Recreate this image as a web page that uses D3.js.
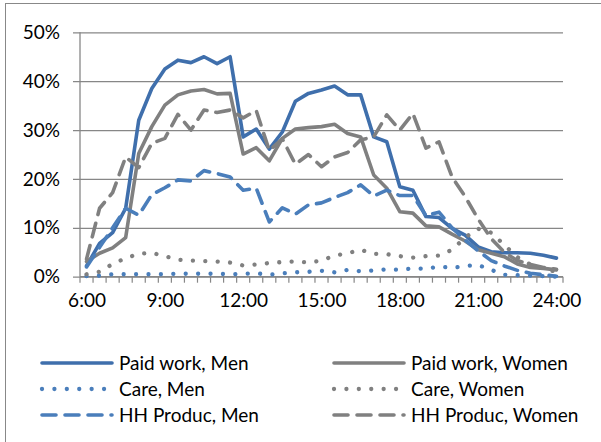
<!DOCTYPE html>
<html>
<head>
<meta charset="utf-8">
<script src="https://cdn.jsdelivr.net/npm/d3@7/dist/d3.min.js"></script>
<style>
  body { margin: 0; background: #fff; }
  text { font-family: Lato, "Noto Sans", sans-serif; fill: #000; }
</style>
</head>
<body>
<div id="app"></div>
<script>
// half-hour slots 6:00 .. 24:00
const times = d3.range(12, 49).map(h => `${Math.floor(h / 2)}:${h % 2 ? "30" : "00"}`)
const tickLabels = ["6:00", "9:00", "12:00", "15:00", "18:00", "21:00", "24:00"]
const yTicks = [0, 10, 20, 30, 40, 50]

const paidMen = [2.2, 6.8, 9, 14, 32, 38.5, 42.5, 44.3, 43.8, 45, 43.6, 45, 28.6, 30.2, 26.1, 29.6, 35.9, 37.5, 38.2, 39, 37.2, 37.2, 28.6, 27.6, 18.4, 17.7, 12.3, 12.1, 9.9, 8.5, 6.1, 5.1, 4.9, 4.9, 4.8, 4.4, 3.8]
const paidWomen = [3.1, 4.8, 5.9, 8, 25.2, 30.7, 35.1, 37.2, 38, 38.3, 37.4, 37.5, 25.1, 26.4, 23.7, 28.3, 30.2, 30.5, 30.7, 31.2, 29.3, 28.6, 20.8, 18.1, 13.3, 13, 10.4, 10.2, 8.7, 7.3, 5.5, 4.8, 4.1, 2.6, 1.9, 1.7, 1.4]
const careMen = [0.1, 0.2, 0.5, 0.5, 0.5, 0.5, 0.5, 0.6, 0.6, 0.6, 0.6, 0.5, 0.6, 0.7, 0.4, 0.7, 0.9, 1.0, 1.2, 0.9, 1.4, 1.1, 1.3, 1.5, 1.4, 1.7, 1.6, 2.1, 1.8, 2.2, 2.4, 1.4, 0.4, 0.3, 0.2, 0.1, 0]
const careWomen = [0.5, 1.0, 2.6, 3.8, 4.7, 4.9, 4.2, 3.5, 3.3, 3.2, 3.1, 2.9, 2.3, 2.5, 2.8, 3.0, 3.1, 2.9, 3.3, 4.3, 4.8, 5.5, 4.7, 4.6, 4.2, 3.9, 4.2, 4.3, 5.5, 8.0, 9.8, 9.0, 6.5, 4.0, 2.5, 1.6, 1.0]
const hhMen = [2.0, 6, 10, 14, 12.6, 16.8, 18.2, 19.8, 19.6, 21.7, 21.1, 20.4, 17.7, 18.1, 11.2, 14.1, 12.8, 14.7, 15.1, 16.2, 17.2, 18.8, 16.5, 17.7, 16.6, 16.6, 12.5, 13.2, 10, 7.5, 5.3, 3.3, 2.2, 1.3, 0.7, 0.4, 0.1]
const hhWomen = [3.6, 14, 17.2, 24.5, 22.3, 27.3, 28.3, 33.2, 30, 34.1, 33.6, 34.1, 32.5, 34, 25.8, 28.2, 23, 25, 22.5, 24.5, 25.4, 28, 28.6, 33.1, 30, 33.4, 26.3, 27.6, 20.4, 16.4, 11.8, 7.8, 5, 3.3, 2.5, 1.9, 1.5]

const series = [
  { name: "Paid work, Men", values: paidMen, color: "#3f6fac", dash: null, w: 3.6 },
  { name: "Paid work, Women", values: paidWomen, color: "#808080", dash: null, w: 3.6 },
  { name: "Care, Men", values: careMen, color: "#4a7ebb", dash: "0.01 12.4", w: 4.3 },
  { name: "Care, Women", values: careWomen, color: "#808080", dash: "0.01 12.4", w: 4.3 },
  { name: "HH Produc, Men", values: hhMen, color: "#4a7ebb", dash: "14 9", w: 3.6 },
  { name: "HH Produc, Women", values: hhWomen, color: "#808080", dash: "14 9", w: 3.6 },
]

const width = 601
const height = 442
const plot = { left: 80, right: 563, top: 32.3, bottom: 276.7 }

const svg = d3.select("#app").append("svg")
  .attr("width", width)
  .attr("height", height)

// outer frame
svg.append("rect")
  .attr("x", 5.5).attr("y", 3.5)
  .attr("width", 620).attr("height", 460)
  .attr("fill", "none")
  .attr("stroke", "#888")

const x = d3.scalePoint().domain(times).range([plot.left, plot.right]).padding(0.5)
const xBand = d3.scaleBand().domain(times).range([plot.left, plot.right])
const y = d3.scaleLinear().domain([0, 50]).range([plot.bottom, plot.top])

// gridlines + y labels
const yAxis = svg.append("g")
  .attr("transform", `translate(${plot.left},0)`)
  .call(d3.axisLeft(y).tickValues(yTicks).tickSize(-(plot.right - plot.left)).tickPadding(20).tickFormat(d => d + "%"))
yAxis.select(".domain").remove()
yAxis.selectAll(".tick line").attr("stroke", "#878787").attr("stroke-width", 1.3).attr("x1", -7)
yAxis.selectAll(".tick text").style("font-size", "19px").attr("fill", "#000")

// y axis line
svg.append("line")
  .attr("x1", plot.left).attr("x2", plot.left)
  .attr("y1", plot.top).attr("y2", plot.bottom)
  .attr("stroke", "#878787").attr("stroke-width", 1.3)

// x axis: boundary ticks
const xAxis = svg.append("g")
xAxis.append("line")
  .attr("x1", plot.left).attr("x2", plot.right)
  .attr("y1", plot.bottom).attr("y2", plot.bottom)
  .attr("stroke", "#878787").attr("stroke-width", 1.3)
xAxis.selectAll(".bt")
  .data(times.map(t => xBand(t)).concat([plot.right]))
  .join("line")
    .attr("x1", d => d).attr("x2", d => d)
    .attr("y1", plot.bottom).attr("y2", plot.bottom + 6)
    .attr("stroke", "#878787").attr("stroke-width", 1.2)

const xLabels = svg.append("g")
  .attr("transform", `translate(0,${plot.bottom})`)
  .call(d3.axisBottom(x).tickValues(tickLabels).tickSize(0).tickPadding(17))
xLabels.select(".domain").remove()
xLabels.selectAll(".tick text").style("font-size", "19px").attr("fill", "#000")

// lines
const line = d3.line()
  .x((d, i) => x(times[i]))
  .y(d => y(d))

svg.append("g").selectAll("path")
  .data(series)
  .join("path")
    .attr("d", d => line(d.values))
    .attr("fill", "none")
    .attr("stroke", d => d.color)
    .attr("stroke-width", d => d.w)
    .attr("stroke-linejoin", "round")
    .attr("stroke-linecap", "round")
    .attr("stroke-dasharray", d => d.dash)

// legend, two columns
const legend = svg.append("g")
const items = legend.selectAll("g")
  .data(series)
  .join("g")
    .attr("transform", (d, i) => `translate(${i % 2 ? 334 : 42},${363 + Math.floor(i / 2) * 26})`)
items.append("line")
  .attr("x1", 0).attr("x2", 70)
  .attr("stroke", d => d.color)
  .attr("stroke-width", d => d.w)
  .attr("stroke-linecap", "round")
  .attr("stroke-dasharray", d => d.dash)
items.append("text")
  .attr("x", 77)
  .attr("dy", "0.35em")
  .style("font-size", "19px")
  .text(d => d.name)
</script>
</body>
</html>
